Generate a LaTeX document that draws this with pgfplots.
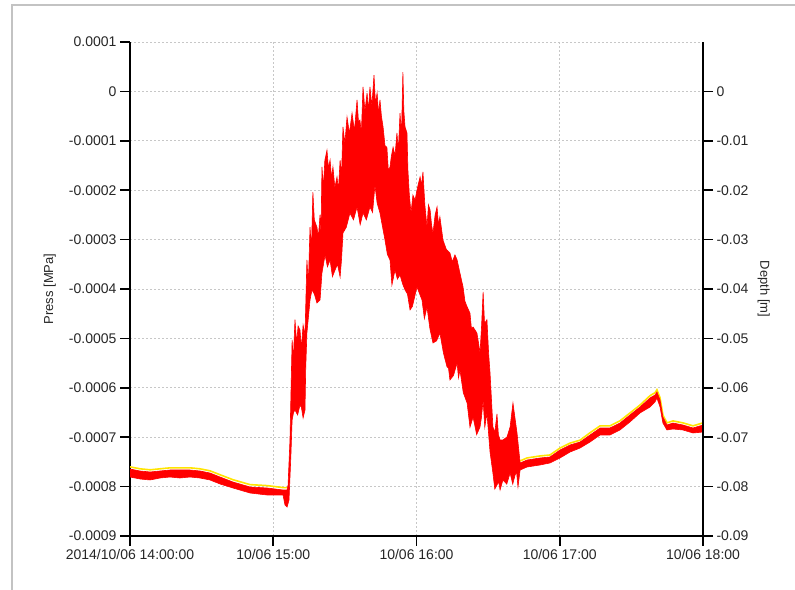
\documentclass[border=0pt]{standalone}
\usepackage{pgfplots}
\pgfplotsset{compat=1.18}
\usepackage{fontspec}
\setmainfont{Liberation Sans}
\definecolor{yel}{RGB}{255,228,0}
\definecolor{frame}{RGB}{195,195,195}
\begin{document}
\begin{tikzpicture}[x=1bp,y=1bp]
\useasboundingbox (0,0) rectangle (795,590);
\draw[frame, line width=1.5bp] (12,0) -- (12,585) -- (795,585);
\begin{axis}[
  at={(130bp,54bp)}, anchor=south west,
  width=573bp, height=494bp, scale only axis,
  xmin=0, xmax=240, ymin=-0.0009, ymax=0.0001,
  axis x line*=bottom, axis y line*=left,
  axis line style={-, line width=1.6bp, black},
  tick align=outside, major tick length=10bp,
  tick style={line width=1.6bp, black},
  xtick={0,60,120,180,240},
  xticklabels={2014/10/06 14:00:00, 10/06 15:00, 10/06 16:00, 10/06 17:00, 10/06 18:00},
  ytick={-0.0009,-0.0008,-0.0007,-0.0006,-0.0005,-0.0004,-0.0003,-0.0002,-0.0001,0,0.0001},
  scaled y ticks=false,
  /pgf/number format/assume math mode=true,
  yticklabel style={/pgf/number format/.cd, fixed, precision=4},
  ticklabel style={font=\fontsize{14bp}{16bp}\selectfont, text=black!85},
  grid=major,
  major grid style={draw=black!22, dash pattern=on 2bp off 2bp, line width=0.8bp},
  ylabel={Press [MPa]},
  ylabel style={at={(axis description cs:-0.14,0.5)}, anchor=center, font=\fontsize{13bp}{15bp}\selectfont, text=black!85},
]
% yellow trace (visible just above red in calm parts)
\addplot[draw=yel, line width=1.6bp] coordinates {
(0,-7.60e-4)(4.2,-7.64e-4)(8.4,-7.66e-4)(12.6,-7.64e-4)(16.8,-7.62e-4)(20.9,-7.62e-4)(25.1,-7.62e-4)(29.3,-7.64e-4)(33.5,-7.68e-4)(37.7,-7.76e-4)(43.1,-7.86e-4)(50.3,-7.96e-4)(57.4,-7.98e-4)(64.1,-8.02e-4)(65.8,-8.02e-4)
};
\addplot[draw=yel, line width=1.6bp] coordinates {
(163.4,-7.48e-4)(166.3,-7.42e-4)(171.7,-7.38e-4)(175.9,-7.36e-4)(180.1,-7.22e-4)(184.3,-7.12e-4)(188.5,-7.06e-4)(192.7,-6.91e-4)(196.9,-6.77e-4)(201.0,-6.77e-4)(205.2,-6.67e-4)(209.4,-6.51e-4)(213.6,-6.35e-4)(217.8,-6.16e-4)(219.9,-6.10e-4)(220.7,-6.04e-4)(222.0,-6.20e-4)(223.2,-6.55e-4)(224.9,-6.71e-4)(227.4,-6.67e-4)(231.6,-6.71e-4)(235.8,-6.77e-4)(240.0,-6.71e-4)
};
% red trace: upper envelope then lower envelope (reversed)
\addplot[draw=red, fill=red, line width=0.6bp] coordinates {
(0,-7.644e-4)(4.2,-7.684e-4)(8.4,-7.704e-4)(12.6,-7.684e-4)(16.8,-7.664e-4)(20.9,-7.664e-4)(25.1,-7.664e-4)(29.3,-7.684e-4)(33.5,-7.725e-4)(37.7,-7.806e-4)(43.1,-7.907e-4)(50.3,-8.008e-4)(57.4,-8.028e-4)(64.1,-8.069e-4)(65.8,-8.069e-4)(66.2,-7.968e-4)(67.0,-7.057e-4)
(67.9,-5.03e-4)(68.4,-5.45e-4)(69.1,-4.62e-4)(69.8,-5.10e-4)(70.4,-4.75e-4)(71.2,-4.83e-4)(71.8,-5.20e-4)(72.5,-4.73e-4)(73.3,-4.93e-4)(74.1,-3.41e-4)(74.7,-3.90e-4)(75.4,-2.75e-4)(76.0,-3.20e-4)(76.6,-2.04e-4)(77.2,-2.60e-4)(78.3,-2.75e-4)(78.9,-2.95e-4)(79.6,-2.50e-4)(80.0,-2.90e-4)(80.4,-1.53e-4)(81.0,-1.95e-4)(81.6,-1.40e-4)(82.5,-1.19e-4)(83.1,-1.55e-4)(83.8,-1.39e-4)(84.4,-1.75e-4)(85.0,-1.53e-4)(85.8,-1.95e-4)(86.7,-1.73e-4)(87.3,-2.00e-4)(88.0,-1.39e-4)(88.6,-1.70e-4)(89.2,-0.72e-4)(90.0,-1.05e-4)(90.9,-0.52e-4)(91.9,-0.85e-4)(93.0,-0.44e-4)(94.0,-0.80e-4)(95.1,-0.17e-4)(95.7,-0.62e-4)(96.3,-0.58e-4)(96.9,-0.85e-4)(97.6,0.09e-4)(98.4,-0.40e-4)(99.3,-0.03e-4)(99.9,-0.40e-4)(100.5,0.09e-4)(101.3,-0.30e-4)(102.2,0.33e-4)(102.8,-0.25e-4)(103.5,-0.03e-4)(104.1,-0.45e-4)(104.7,-0.17e-4)(105.3,-0.50e-4)(106.0,-0.72e-4)(106.8,-1.10e-4)(107.6,-1.13e-4)(108.2,-1.60e-4)(108.9,-1.53e-4)(109.5,-1.30e-4)(110.2,-1.13e-4)(111.0,-1.30e-4)(111.8,-0.84e-4)(112.4,-1.20e-4)(113.1,-0.44e-4)(113.7,-0.90e-4)(114.3,0.39e-4)(114.7,-0.40e-4)(115.2,-0.72e-4)(116.0,-0.84e-4)(116.4,-1.59e-4)(117.0,-2.10e-4)(117.7,-2.46e-4)(118.5,-2.10e-4)(119.4,-2.20e-4)(120.4,-1.95e-4)(121.5,-1.73e-4)(122.1,-1.90e-4)(122.7,-1.63e-4)(123.5,-2.30e-4)(124.4,-2.75e-4)(125.0,-2.30e-4)(125.7,-2.40e-4)(126.3,-2.70e-4)(126.9,-2.87e-4)(127.8,-2.50e-4)(128.6,-2.34e-4)(129.2,-2.70e-4)(129.8,-2.54e-4)(131.1,-3.01e-4)(132.5,-3.20e-4)(134.0,-3.27e-4)(135.0,-3.45e-4)(136.1,-3.31e-4)(137.0,-3.41e-4)(138.2,-3.68e-4)(139.5,-3.96e-4)(140.3,-4.25e-4)(141.2,-4.36e-4)(142.4,-4.49e-4)(143.0,-4.80e-4)(143.7,-4.77e-4)(145.3,-4.89e-4)(146.0,-5.10e-4)(146.6,-5.30e-4)(147.2,-4.80e-4)(147.9,-4.06e-4)(148.5,-4.70e-4)(149.5,-4.62e-4)(150.2,-5.30e-4)(150.8,-5.70e-4)(152.0,-6.79e-4)(152.8,-6.90e-4)(153.7,-6.53e-4)(154.3,-6.95e-4)
(155.0,-7.057e-4)(156.2,-7.057e-4)(157.9,-6.996e-4)(159.2,-6.794e-4)(160.4,-6.308e-4)(162.1,-6.915e-4)(163.4,-7.522e-4)(166.3,-7.462e-4)(171.7,-7.421e-4)(175.9,-7.401e-4)(180.1,-7.259e-4)(184.3,-7.158e-4)(188.5,-7.097e-4)(192.7,-6.955e-4)(196.9,-6.814e-4)(201.0,-6.814e-4)(205.2,-6.713e-4)(209.4,-6.551e-4)(213.6,-6.389e-4)(217.8,-6.206e-4)(219.9,-6.146e-4)(220.7,-6.085e-4)(222.0,-6.247e-4)(223.2,-6.591e-4)(224.9,-6.753e-4)(227.4,-6.713e-4)(231.6,-6.753e-4)(235.8,-6.814e-4)(240.0,-6.753e-4)
(240.0,-6.895e-4)(235.8,-6.915e-4)(231.6,-6.854e-4)(227.4,-6.834e-4)(224.9,-6.854e-4)(223.2,-6.713e-4)(222.0,-6.389e-4)(220.7,-6.206e-4)(219.9,-6.287e-4)(217.8,-6.389e-4)(213.6,-6.510e-4)(209.4,-6.692e-4)(205.2,-6.854e-4)(201.0,-6.955e-4)(196.9,-6.955e-4)(192.7,-7.097e-4)(188.5,-7.219e-4)(184.3,-7.300e-4)(180.1,-7.421e-4)(175.9,-7.522e-4)(171.7,-7.563e-4)(166.3,-7.603e-4)
(163.4,-7.664e-4)(162.5,-8.008e-4)(161.9,-7.70e-4)(161.3,-7.765e-4)(160.3,-7.95e-4)(159.2,-7.725e-4)(157.8,-7.95e-4)(156.2,-7.866e-4)(155.0,-8.069e-4)(154.4,-7.90e-4)(153.7,-7.968e-4)(152.8,-8.05e-4)(152.0,-7.725e-4)(150.8,-7.30e-4)(149.5,-6.510e-4)(148.6,-6.80e-4)(147.9,-6.247e-4)(147.2,-6.60e-4)(146.6,-6.794e-4)(145.2,-6.95e-4)(143.7,-6.591e-4)(142.4,-6.80e-4)(141.2,-6.308e-4)(139.6,-6.10e-4)(138.2,-5.640e-4)(137.6,-5.80e-4)(137.0,-5.498e-4)(135.5,-5.75e-4)(134.0,-5.842e-4)(133.4,-5.60e-4)(132.8,-5.579e-4)(131.3,-5.30e-4)(129.8,-4.891e-4)(128.4,-5.05e-4)(126.9,-5.093e-4)(125.6,-4.80e-4)(124.4,-4.364e-4)(123.3,-4.60e-4)(122.3,-4.223e-4)(120.2,-3.960e-4)(119.4,-4.121e-4)(118.3,-4.35e-4)(117.3,-4.425e-4)(116.2,-4.10e-4)(115.2,-4.020e-4)(114.2,-3.90e-4)(113.1,-3.717e-4)(112.0,-3.80e-4)(111.0,-3.615e-4)(109.7,-3.919e-4)(108.9,-3.413e-4)(107.8,-3.30e-4)(106.8,-3.008e-4)(105.8,-2.75e-4)(104.7,-2.462e-4)(103.5,-2.259e-4)(102.6,-1.895e-4)(101.6,-2.45e-4)(100.5,-2.340e-4)(99.0,-2.60e-4)(97.6,-2.462e-4)(96.4,-2.70e-4)(95.1,-2.340e-4)(93.6,-2.60e-4)(92.1,-2.462e-4)(90.6,-2.75e-4)(89.2,-2.866e-4)(88.6,-3.40e-4)(88.0,-3.757e-4)(86.9,-3.50e-4)(85.9,-3.615e-4)(84.8,-3.75e-4)(83.8,-3.413e-4)(82.7,-3.55e-4)(81.7,-3.312e-4)(80.4,-3.676e-4)(79.6,-4.223e-4)(78.3,-4.283e-4)(77.2,-4.10e-4)(76.2,-4.020e-4)(75.4,-4.223e-4)(74.1,-4.891e-4)(73.6,-5.60e-4)(73.3,-6.449e-4)(72.5,-6.611e-4)(71.8,-6.40e-4)(71.2,-6.348e-4)(70.2,-6.55e-4)(69.1,-6.449e-4)(68.5,-6.50e-4)(67.9,-6.652e-4)
(67.4,-7.360e-4)(66.6,-8.271e-4)(65.8,-8.413e-4)(64.9,-8.372e-4)(64.1,-8.170e-4)(57.4,-8.170e-4)(50.3,-8.130e-4)(43.1,-8.028e-4)(37.7,-7.947e-4)(33.5,-7.866e-4)(29.3,-7.826e-4)(25.1,-7.806e-4)(20.9,-7.826e-4)(16.8,-7.806e-4)(12.6,-7.826e-4)(8.4,-7.866e-4)(4.2,-7.846e-4)(0,-7.806e-4)
};
\end{axis}
\begin{axis}[
  at={(130bp,54bp)}, anchor=south west,
  width=573bp, height=494bp, scale only axis,
  xmin=0, xmax=240, ymin=-0.09, ymax=0.01,
  axis x line=none, axis y line*=right,
  axis line style={-, line width=1.6bp, black},
  tick align=outside, major tick length=10bp,
  tick style={line width=1.6bp, black},
  ytick={-0.09,-0.08,-0.07,-0.06,-0.05,-0.04,-0.03,-0.02,-0.01,0},
  scaled y ticks=false,
  /pgf/number format/assume math mode=true,
  yticklabel style={/pgf/number format/.cd, fixed, precision=2},
  ticklabel style={font=\fontsize{14bp}{16bp}\selectfont, text=black!85},
  ylabel={Depth [m]},
  ylabel style={at={(axis description cs:1.106,0.5)}, anchor=center, rotate=180, font=\fontsize{13bp}{15bp}\selectfont, text=black!85},
]
\addplot[draw=none] coordinates {(0,0)};
\end{axis}
\end{tikzpicture}
\end{document}
